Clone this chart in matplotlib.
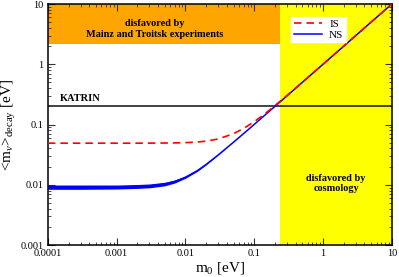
import numpy as np
import matplotlib.pyplot as plt
from matplotlib.ticker import FixedLocator, FixedFormatter, LogLocator, NullFormatter

plt.rcParams['font.family'] = ['Liberation Serif', 'DejaVu Serif']
plt.rcParams['mathtext.fontset'] = 'custom'
plt.rcParams['mathtext.rm'] = 'Liberation Serif'
plt.rcParams['mathtext.it'] = 'Liberation Serif:italic'

# lightest neutrino mass [eV]
m0 = [1e-4, 3e-4, 1e-3, 2e-3, 3e-3, 5e-3, 7e-3, 0.01, 0.015, 0.02, 0.03,
      0.05, 0.07, 0.1, 0.15, 0.2, 0.3, 0.5, 1, 2, 5, 10]
# normal spectrum band (low / high edge)
ns_lo = [0.0084, 0.0084, 0.0085, 0.0087, 0.0089, 0.0096, 0.0107, 0.0128, 0.0168,
         0.0214, 0.0311, 0.0508, 0.0706, 0.1004, 0.1503, 0.2002, 0.3001,
         0.5001, 1.0, 2.0, 5.0, 10.0]
ns_hi = [0.0099, 0.0099, 0.0099, 0.0101, 0.0103, 0.0110, 0.0120, 0.0139, 0.0177,
         0.0222, 0.0315, 0.0510, 0.0706, 0.1004, 0.1503, 0.2002, 0.3001,
         0.5001, 1.0, 2.0, 5.0, 10.0]
# inverted spectrum
inv = [0.0490, 0.0490, 0.0490, 0.0490, 0.0491, 0.0493, 0.0495, 0.0500, 0.0512,
       0.0530, 0.0575, 0.0705, 0.0860, 0.1113, 0.1575, 0.2057, 0.3040,
       0.5025, 1.001, 2.0, 5.0, 10.0]

mainz = 2.2
katrin = 0.2
cosmo = 0.24

fig = plt.figure(figsize=(3.99, 2.77), dpi=100)
ax = fig.add_axes([0.12, 0.1155, 0.862, 0.870])

ax.axvspan(cosmo, 10, color='#ffff00', lw=0, zorder=0)
ax.fill_between([1e-4, cosmo], mainz, 10, color='#ffa500', lw=0, zorder=0)
ax.axhline(katrin, color='#222222', lw=1.2, zorder=1)

ax.plot(m0, inv, color='red', ls=(0, (4.5, 3)), lw=1.2, label='IS', zorder=3)
ax.fill_between(m0, ns_lo, ns_hi, color='blue', lw=0, zorder=2)
ax.plot(m0, np.sqrt(np.array(ns_lo) * np.array(ns_hi)), color='blue', lw=1.1,
        label='NS', zorder=2)

ax.set_xscale('log')
ax.set_yscale('log')
ax.set_xlim(1e-4, 10)
ax.set_ylim(1e-3, 10)

xt = [1e-4, 1e-3, 1e-2, 0.1, 1, 10]
yt = [1e-3, 1e-2, 0.1, 1, 10]
ax.xaxis.set_major_locator(FixedLocator(xt))
ax.xaxis.set_major_formatter(FixedFormatter(['0.0001', '0.001', '0.01', '0.1', '1', '10']))
ax.yaxis.set_major_locator(FixedLocator(yt))
ax.yaxis.set_major_formatter(FixedFormatter(['0.001', '0.01', '0.1', '1', '10']))
for a in (ax.xaxis, ax.yaxis):
    a.set_minor_locator(LogLocator(base=10, subs=np.arange(2, 10)))
    a.set_minor_formatter(NullFormatter())
ax.tick_params(which='both', direction='in', top=True, right=True, labelsize=7.5,
               color='#333333', pad=3)
ax.tick_params(which='major', length=5, width=0.8)
ax.tick_params(which='minor', length=2.5, width=0.6)
for s in ax.spines.values():
    s.set_linewidth(1.1)

ax.set_xlabel(r'm$_0$ [eV]', fontsize=11, labelpad=1)
ax.set_ylabel(r'<m$_\nu$>$_{\rm decay}$ [eV]', fontsize=11, labelpad=2)

ax.text(0.0036, 3.9, 'disfavored by\nMainz and Troitsk experiments', ha='center',
        va='center', fontsize=7.4, fontweight='bold', linespacing=1.3)
ax.text(1.5e-4, 0.27, 'KATRIN', ha='left', va='center', fontsize=7.5,
        fontweight='bold')
ax.text(1.55, 0.0105, 'disfavored by\ncosmology', ha='center', va='center',
        fontsize=7.4, fontweight='bold', linespacing=1.2)

leg = ax.legend(loc='upper left', bbox_to_anchor=(0.69, 0.97), fontsize=8,
                frameon=True, fancybox=False, framealpha=1, edgecolor='white',
                handlelength=2.6, borderpad=0.25, labelspacing=0.05,
                handletextpad=0.6)

fig.savefig('out.png', dpi=100)
